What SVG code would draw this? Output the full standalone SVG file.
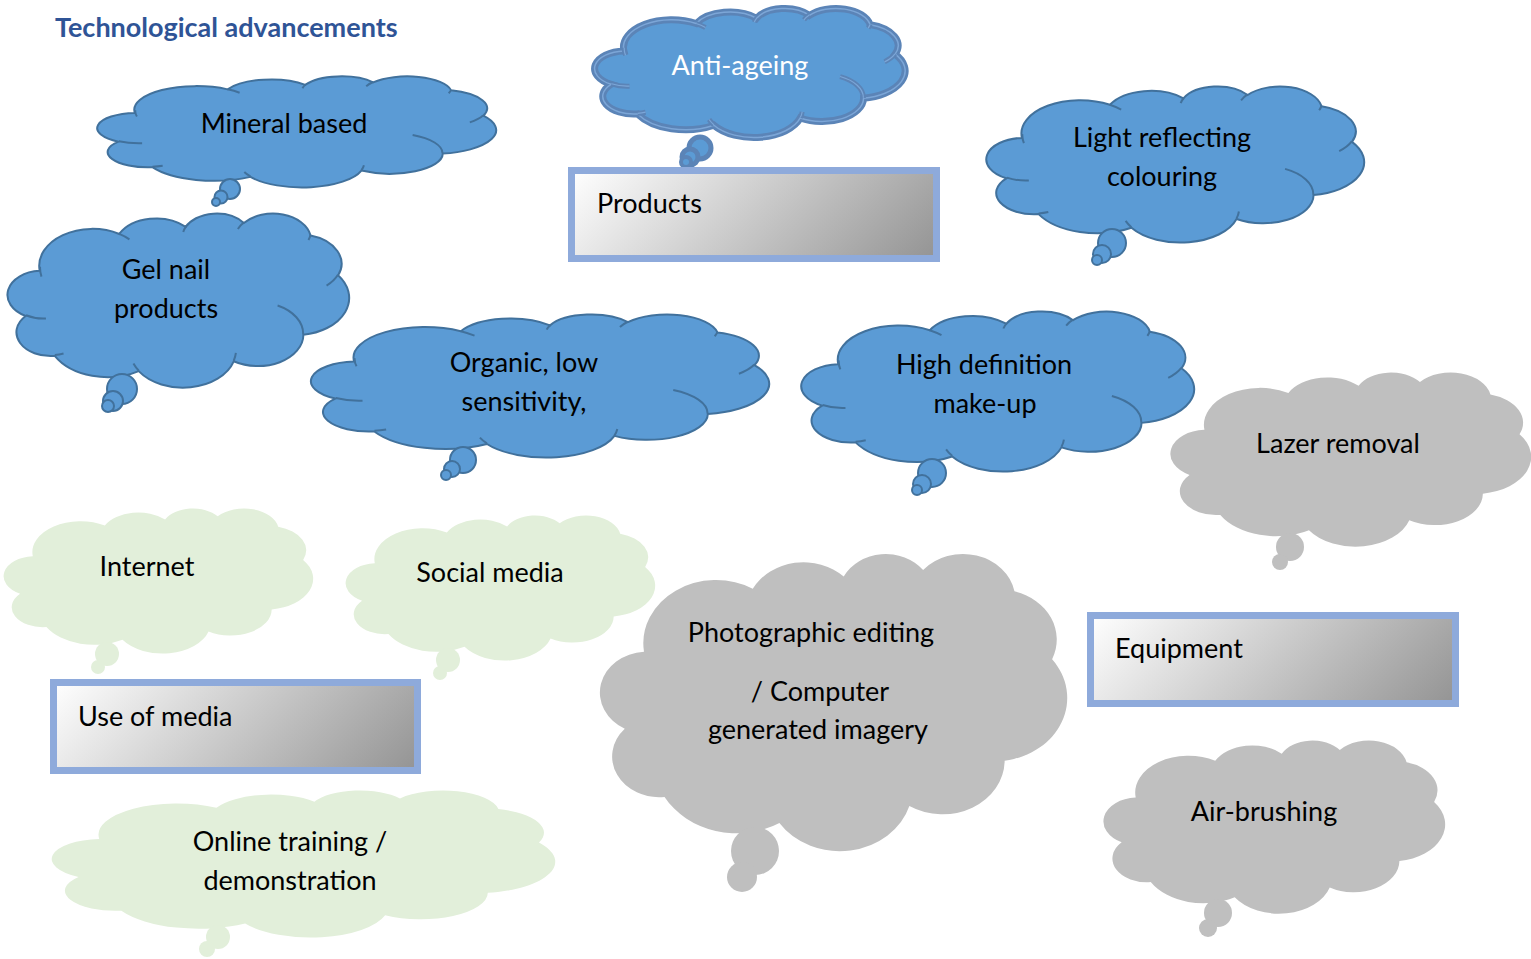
<svg xmlns="http://www.w3.org/2000/svg" xmlns:xlink="http://www.w3.org/1999/xlink" width="1531" height="959" viewBox="0 0 1531 959">
<style>
.blue{fill:#5b9bd5;stroke:#41719c;stroke-width:2}
.inner{fill:none;stroke:#41719c;stroke-width:2}
.antiOut{fill:#5b9bd5;stroke:#5b84b7;stroke-width:7}
.antiMid{fill:none;stroke:#7ca6d7;stroke-width:1.5}
.antiInner{fill:none;stroke:#5b84b7;stroke-width:5}
.antiInnerMid{fill:none;stroke:#7ca6d7;stroke-width:1.2}
.grey{fill:#bfbfbf}
.green{fill:#e2efda}
.lbl{font-family:Lato,"Liberation Sans",sans-serif;font-size:27px;fill:#000;text-anchor:middle}
.boxlbl{font-family:Lato,"Liberation Sans",sans-serif;font-size:27px;fill:#000}
.box{fill:url(#grad);stroke:#8eaadb;stroke-width:7}
.title{font-family:Lato,"Liberation Sans",sans-serif;font-size:27px;font-weight:bold;fill:#2f5496}
</style>
<defs>
<path id="cloud" vector-effect="non-scaling-stroke" d="M9.03,33.26 A15.63,21.27 0 0 1 32.42,12.04 A12.35,16.82 0 0 1 51.98,7.95 A10.10,13.76 0 0 1 69.06,5.75 A11.24,15.27 0 0 1 88.70,12.91 A12.35,16.84 0 0 1 96.80,35.79 A15.68,21.34 0 0 1 86.59,69.92 A13.39,18.21 0 0 1 66.10,85.22 A15.63,21.33 0 0 1 38.15,90.90 A17.87,24.41 0 0 1 13.45,82.12 A10.09,13.70 0 0 1 4.90,59.16 A10.06,13.76 0 0 1 9.03,33.26 Z"/>
<path id="lines" vector-effect="non-scaling-stroke" fill="none" d="M10.86,60.59 A10.06,13.76 0 0 1 5.00,58.75 M16.04,80.78 A10.09,13.70 0 0 1 13.47,81.67 M38.14,90.49 A15.63,21.33 0 0 1 36.60,86.45 M66.73,80.44 A15.63,21.33 0 0 1 66.11,84.86 M79.00,53.13 A13.39,18.21 0 0 1 86.53,69.65 M96.75,35.54 A12.35,16.84 0 0 1 93.40,41.74 M88.71,12.56 A11.24,15.27 0 0 1 88.08,15.54 M67.31,9.15 A11.24,15.27 0 0 1 69.03,5.42 M51.25,10.93 A10.10,13.76 0 0 1 52.08,7.71 M32.41,12.02 A15.63,21.27 0 0 1 35.42,15.14 M9.55,36.55 A15.63,21.27 0 0 1 9.14,30.85"/>
<linearGradient id="grad" x1="0" y1="0" x2="1.18" y2="0.29">
<stop offset="0" stop-color="#ffffff"/>
<stop offset="1" stop-color="#939393"/>
</linearGradient>
</defs>

<rect width="1531" height="959" fill="#ffffff"/>

<g id="title">
<text class="title" x="55" y="37">Technological advancements</text>
</g>

<g id="connectors"></g>

<g id="anti-ageing">
<use xlink:href="#cloud" class="antiOut" transform="translate(596,8) scale(3.09,1.29)"/>
<use xlink:href="#cloud" class="antiMid" transform="translate(596,8) scale(3.09,1.29)"/>
<use xlink:href="#lines" class="antiInner" transform="translate(596,8) scale(3.09,1.29)"/>
<use xlink:href="#lines" class="antiInnerMid" transform="translate(596,8) scale(3.09,1.29)"/>
<circle cx="700" cy="148" r="11" class="antiOut" style="stroke-width:5"/>
<circle cx="690" cy="157" r="8" class="antiOut" style="stroke-width:5"/>
<circle cx="686" cy="162" r="5" class="antiOut" style="stroke-width:4"/>
<text class="lbl" x="740" y="75" style="fill:#ffffff">Anti-ageing</text>
</g>

<g id="products">
<rect class="box" x="571.5" y="170.5" width="365" height="88"/>
<text class="boxlbl" x="597" y="213">Products</text>
</g>

<g id="mineral-based">
<use xlink:href="#cloud" class="blue" transform="translate(99,76) scale(3.97,1.11)"/>
<use xlink:href="#lines" class="inner" transform="translate(99,76) scale(3.97,1.11)"/>
<circle cx="230" cy="189" r="10" class="blue"/>
<circle cx="221" cy="197" r="6.5" class="blue"/>
<circle cx="216" cy="202" r="4" class="blue"/>
<text class="lbl" x="284" y="133">Mineral based</text>
</g>

<g id="light-reflecting">
<use xlink:href="#cloud" class="blue" transform="translate(988,86) scale(3.76,1.56)"/>
<use xlink:href="#lines" class="inner" transform="translate(988,86) scale(3.76,1.56)"/>
<circle cx="1112" cy="243" r="14" class="blue"/>
<circle cx="1102" cy="254" r="9" class="blue"/>
<circle cx="1097" cy="260" r="5" class="blue"/>
<text class="lbl" x="1162" y="147">Light reflecting</text>
<text class="lbl" x="1162" y="186">colouring</text>
</g>

<g id="gel-nail">
<use xlink:href="#cloud" class="blue" transform="translate(9,213) scale(3.40,1.74)"/>
<use xlink:href="#lines" class="inner" transform="translate(9,213) scale(3.40,1.74)"/>
<circle cx="122" cy="389" r="15" class="blue"/>
<circle cx="113" cy="401" r="10" class="blue"/>
<circle cx="108" cy="406" r="6" class="blue"/>
<text class="lbl" x="166" y="279">Gel nail</text>
<text class="lbl" x="166" y="318">products</text>
</g>

<g id="organic">
<use xlink:href="#cloud" class="blue" transform="translate(313,314) scale(4.56,1.43)"/>
<use xlink:href="#lines" class="inner" transform="translate(313,314) scale(4.56,1.43)"/>
<circle cx="463" cy="460" r="13" class="blue"/>
<circle cx="452" cy="469" r="8" class="blue"/>
<circle cx="446" cy="475" r="5" class="blue"/>
<text class="lbl" x="524" y="372">Organic, low</text>
<text class="lbl" x="524" y="411">sensitivity,</text>
</g>

<g id="high-definition">
<use xlink:href="#cloud" class="blue" transform="translate(803,311) scale(3.91,1.60)"/>
<use xlink:href="#lines" class="inner" transform="translate(803,311) scale(3.91,1.60)"/>
<circle cx="932" cy="473" r="14" class="blue"/>
<circle cx="922" cy="484" r="9" class="blue"/>
<circle cx="917" cy="490" r="5" class="blue"/>
<text class="lbl" x="984" y="374">High definition</text>
<text class="lbl" x="985" y="413">make-up</text>
</g>

<g id="lazer-removal">
<use xlink:href="#cloud" class="grey" transform="translate(1172,372) scale(3.59,1.74)"/>
<circle cx="1290" cy="547" r="14" class="grey"/>
<circle cx="1280" cy="562" r="8" class="grey"/>
<text class="lbl" x="1338" y="453">Lazer removal</text>
</g>

<g id="equipment">
<rect class="box" x="1090.5" y="615.5" width="365" height="88"/>
<text class="boxlbl" x="1115" y="658">Equipment</text>
</g>

<g id="photographic-editing">
<use xlink:href="#cloud" class="grey" transform="translate(602,553) scale(4.65,2.97)"/>
<circle cx="755" cy="851" r="24" class="grey"/>
<circle cx="742" cy="877" r="15" class="grey"/>
<text class="lbl" x="811" y="642">Photographic editing</text>
<text class="lbl" x="820" y="701">/ Computer</text>
<text class="lbl" x="818" y="739">generated imagery</text>
</g>

<g id="air-brushing">
<use xlink:href="#cloud" class="grey" transform="translate(1105,740) scale(3.40,1.73)"/>
<circle cx="1218" cy="913" r="14" class="grey"/>
<circle cx="1208" cy="928" r="9" class="grey"/>
<text class="lbl" x="1264" y="821">Air-brushing</text>
</g>

<g id="internet">
<use xlink:href="#cloud" class="green" transform="translate(5,508) scale(3.08,1.45)"/>
<circle cx="107" cy="654" r="12" class="green"/>
<circle cx="98" cy="667" r="7" class="green"/>
<text class="lbl" x="147" y="576">Internet</text>
</g>

<g id="social-media">
<use xlink:href="#cloud" class="green" transform="translate(347,515) scale(3.08,1.45)"/>
<circle cx="448" cy="660" r="12" class="green"/>
<circle cx="440" cy="673" r="7" class="green"/>
<text class="lbl" x="490" y="582">Social media</text>
</g>

<g id="use-of-media">
<rect class="box" x="53.5" y="682.5" width="364" height="88"/>
<text class="boxlbl" x="78" y="726">Use of media</text>
</g>

<g id="online-training">
<use xlink:href="#cloud" class="green" transform="translate(54,790) scale(5.01,1.47)"/>
<circle cx="218" cy="937" r="12" class="green"/>
<circle cx="207" cy="949" r="8" class="green"/>
<text class="lbl" x="290" y="851">Online training /</text>
<text class="lbl" x="290" y="890">demonstration</text>
</g>
</svg>
